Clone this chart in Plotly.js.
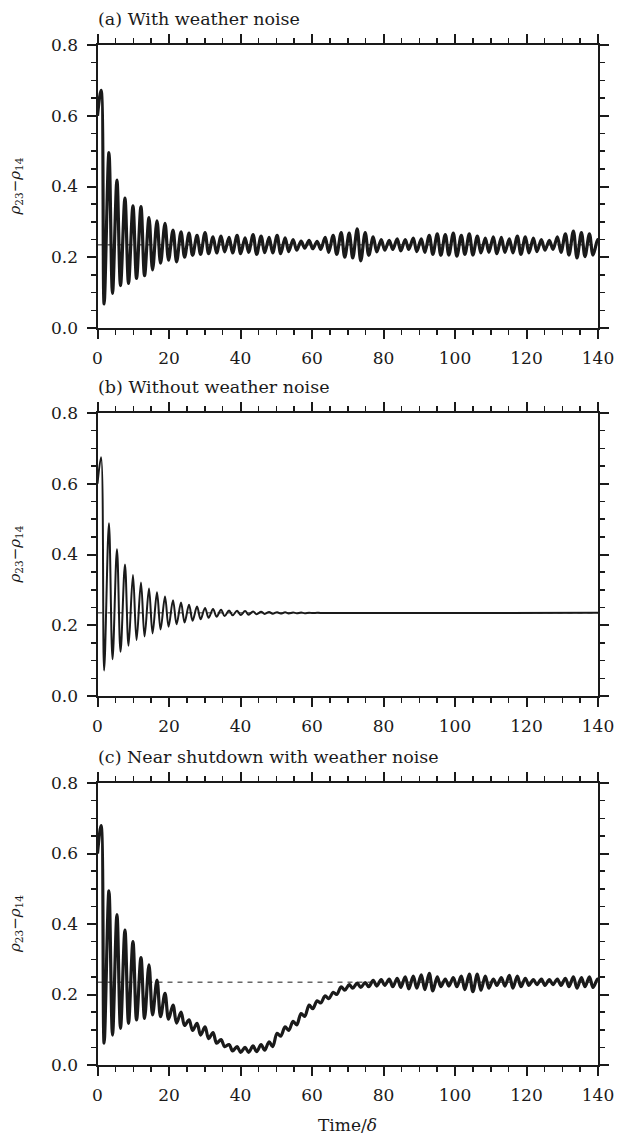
<!DOCTYPE html>
<html>
<head>
<meta charset="utf-8">
<script src="https://cdn.plot.ly/plotly-3.0.1.min.js"></script>
<style>html,body{margin:0;padding:0;background:#fff;}#chart{width:617px;height:1139px;}</style>
</head>
<body>
<div id="chart"></div>
<script>
// Times of the successive extrema (peaks / troughs)
const tExt = [0, 1.0, 1.85, 3.2, 4.2, 5.44, 6.44, 7.68, 8.68, 9.92,
  10.92, 12.16, 13.16, 14.40, 15.40, 16.64, 17.64, 18.88, 19.88, 21.12,
  22.12, 23.36, 24.36, 25.60, 26.60, 27.84, 28.84, 30.08, 31.08, 32.32,
  33.32, 34.56, 35.56, 36.80, 37.80, 39.04, 40.04, 41.28, 42.28, 43.52,
  44.52, 45.76, 46.76, 48.00, 49.00, 50.24, 51.24, 52.48, 53.48, 54.72,
  55.72, 56.96, 57.96, 59.20, 60.20, 61.44, 62.44, 63.68, 64.68, 65.92,
  66.92, 68.16, 69.16, 70.40, 71.40, 72.64, 73.64, 74.88, 75.88, 77.12,
  78.12, 79.36, 80.36, 81.60, 82.60, 83.84, 84.84, 86.08, 87.08, 88.32,
  89.32, 90.56, 91.56, 92.80, 93.80, 95.04, 96.04, 97.28, 98.28, 99.52,
  100.52, 101.76, 102.76, 104.00, 105.00, 106.24, 107.24, 108.48, 109.48, 110.72,
  111.72, 112.96, 113.96, 115.20, 116.20, 117.44, 118.44, 119.68, 120.68, 121.92,
  122.92, 124.16, 125.16, 126.40, 127.40, 128.64, 129.64, 130.88, 131.88, 133.12,
  134.12, 135.36, 136.36, 137.60, 138.60, 139.84, 140];

// (a) With weather noise
const valA = [0.60, 0.672, 0.068, 0.496, 0.098, 0.418, 0.120, 0.367, 0.126, 0.345,
  0.140, 0.343, 0.148, 0.312, 0.164, 0.303, 0.183, 0.296, 0.192, 0.277,
  0.187, 0.272, 0.200, 0.268, 0.205, 0.262, 0.208, 0.270, 0.210, 0.258,
  0.212, 0.260, 0.215, 0.256, 0.212, 0.262, 0.210, 0.255, 0.214, 0.264,
  0.208, 0.260, 0.213, 0.256, 0.212, 0.262, 0.210, 0.255, 0.216, 0.250,
  0.220, 0.246, 0.226, 0.248, 0.224, 0.245, 0.222, 0.256, 0.214, 0.262,
  0.208, 0.270, 0.200, 0.268, 0.198, 0.280, 0.190, 0.270, 0.205, 0.258,
  0.215, 0.250, 0.220, 0.248, 0.222, 0.252, 0.218, 0.250, 0.222, 0.254,
  0.216, 0.252, 0.214, 0.262, 0.208, 0.266, 0.205, 0.264, 0.206, 0.268,
  0.203, 0.262, 0.208, 0.266, 0.206, 0.260, 0.212, 0.254, 0.214, 0.258,
  0.210, 0.256, 0.214, 0.252, 0.212, 0.260, 0.208, 0.258, 0.212, 0.254,
  0.216, 0.250, 0.220, 0.248, 0.222, 0.258, 0.214, 0.266, 0.206, 0.274,
  0.198, 0.270, 0.202, 0.266, 0.206, 0.250, 0.240];

// (b) Without weather noise (decays onto the equilibrium, then flat)
const valB = [0.60, 0.675, 0.072, 0.488, 0.104, 0.415, 0.125, 0.372, 0.142, 0.342,
  0.158, 0.321, 0.168, 0.304, 0.177, 0.293, 0.188, 0.281, 0.196, 0.271,
  0.203, 0.264, 0.208, 0.258, 0.213, 0.253, 0.217, 0.249, 0.221, 0.246,
  0.224, 0.244, 0.226, 0.242, 0.228, 0.241, 0.229, 0.240, 0.230, 0.239,
  0.231, 0.238, 0.232, 0.2375, 0.2325, 0.237, 0.233, 0.2365, 0.2335, 0.236,
  0.234, 0.2358, 0.2342, 0.2355, 0.2345, 0.2352, 0.2348, 0.235];
const timeB = tExt.slice(0, valB.length - 1).concat([140]);

// (c) Near shutdown with weather noise
const valC = [0.60, 0.679, 0.062, 0.494, 0.085, 0.427, 0.104, 0.383, 0.118, 0.350,
  0.128, 0.305, 0.132, 0.284, 0.142, 0.241, 0.137, 0.203, 0.130, 0.170,
  0.119, 0.150, 0.112, 0.128, 0.098, 0.118, 0.085, 0.108, 0.075, 0.092,
  0.062, 0.072, 0.052, 0.058, 0.040, 0.052, 0.036, 0.050, 0.036, 0.054,
  0.038, 0.058, 0.042, 0.066, 0.052, 0.090, 0.082, 0.108, 0.098, 0.124,
  0.114, 0.146, 0.138, 0.170, 0.160, 0.182, 0.176, 0.196, 0.188, 0.206,
  0.200, 0.222, 0.212, 0.228, 0.218, 0.232, 0.220, 0.234, 0.222, 0.240,
  0.224, 0.242, 0.226, 0.244, 0.222, 0.246, 0.220, 0.250, 0.216, 0.252,
  0.218, 0.256, 0.214, 0.260, 0.210, 0.250, 0.222, 0.244, 0.224, 0.248,
  0.222, 0.252, 0.214, 0.258, 0.208, 0.258, 0.212, 0.252, 0.218, 0.244,
  0.226, 0.248, 0.224, 0.254, 0.218, 0.252, 0.222, 0.246, 0.226, 0.242,
  0.228, 0.244, 0.226, 0.242, 0.228, 0.244, 0.226, 0.246, 0.222, 0.250,
  0.218, 0.248, 0.222, 0.250, 0.220, 0.244, 0.236];

const eqT = [0, 140];
const eqLevel = 0.235;

const panelTitles = ['(a) With weather noise', '(b) Without weather noise', '(c) Near shutdown with weather noise'];
const xTitle = 'Time/<i>δ</i>';
const yTitle = '<i>ρ</i><sub>23</sub>−<i>ρ</i><sub>14</sub>';

const W = 617, H = 1139;
const INK = '#1a1a1a';
const FONT = 'DejaVu Serif, serif';
const xPix = [97.5, 598];
const yPix = [[45, 328], [413, 696], [783, 1065]];

const data = [];
const series = [[tExt, valA, 3.2], [timeB, valB, 2], [tExt, valC, 3.2]];
series.forEach((s, i) => {
  const n = i === 0 ? '' : String(i + 1);
  data.push({x: eqT, y: [eqLevel, eqLevel], xaxis: 'x' + n, yaxis: 'y' + n, mode: 'lines',
    line: {color: INK, width: 1, dash: '5px,5px'}, hoverinfo: 'skip', showlegend: false});
  data.push({x: s[0], y: s[1], xaxis: 'x' + n, yaxis: 'y' + n, mode: 'lines',
    line: {color: INK, width: s[2], shape: 'spline', smoothing: 1}, showlegend: false});
});

const layout = {width: W, height: H, margin: {l: 0, r: 0, t: 0, b: 0},
  paper_bgcolor: '#fff', plot_bgcolor: '#fff', showlegend: false, annotations: []};

yPix.forEach((yp, i) => {
  const n = i === 0 ? '' : String(i + 1);
  const common = {showline: true, linewidth: 2, linecolor: INK, mirror: 'ticks', ticks: 'outside',
    ticklen: 9, tickwidth: 2, tickcolor: INK, showgrid: false, zeroline: false,
    tickfont: {family: FONT, size: 17, color: INK}, fixedrange: true, ticklabelstandoff: 5};
  layout['xaxis' + n] = Object.assign({}, common, {domain: [xPix[0] / W, xPix[1] / W], range: [0, 140],
    anchor: 'y' + n, tick0: 0, dtick: 20,
    minor: {dtick: 5, ticks: 'outside', ticklen: 5, tickwidth: 1.5, tickcolor: INK}});
  layout['yaxis' + n] = Object.assign({}, common, {domain: [1 - yp[1] / H, 1 - yp[0] / H], range: [0, 0.8],
    anchor: 'x' + n, tick0: 0, dtick: 0.2, tickformat: '.1f',
    minor: {dtick: 0.05, ticks: 'outside', ticklen: 5, tickwidth: 1.5, tickcolor: INK}});
  layout.annotations.push({text: panelTitles[i], xref: 'paper', yref: 'paper', x: 96 / W, xanchor: 'left',
    y: 1 - (yp[0] - 26) / H, yanchor: 'middle', showarrow: false, font: {family: FONT, size: 17.5, color: INK}});
  layout.annotations.push({text: yTitle, xref: 'paper', yref: 'paper', x: 15 / W, xanchor: 'center',
    y: 1 - (yp[0] + yp[1]) / 2 / H, yanchor: 'middle', textangle: -90, showarrow: false,
    font: {family: FONT, size: 15, color: INK}});
});
layout.annotations.push({text: xTitle, xref: 'paper', yref: 'paper', x: 348 / W, xanchor: 'center',
  y: 1 - 1125 / H, yanchor: 'middle', showarrow: false, font: {family: FONT, size: 17, color: INK}});

Plotly.newPlot('chart', data, layout, {staticPlot: true, displayModeBar: false});
</script>
</body>
</html>
